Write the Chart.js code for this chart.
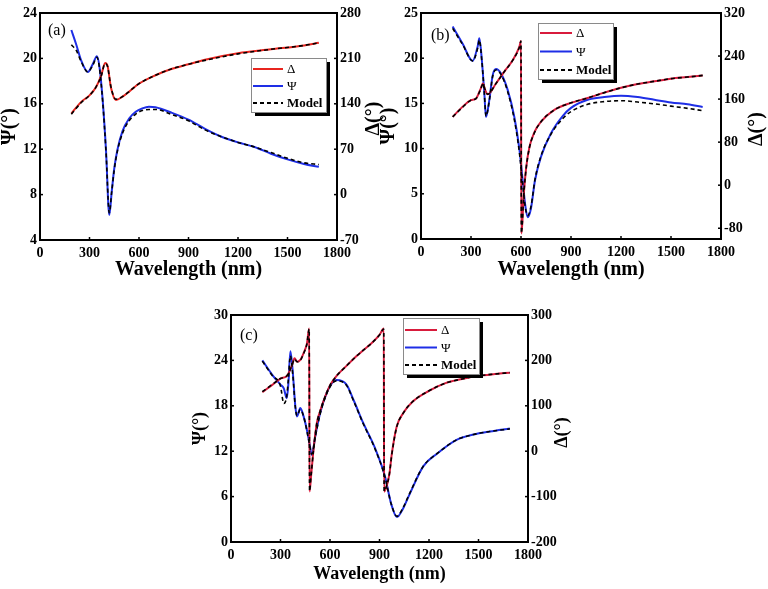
<!DOCTYPE html>
<html>
<head>
<meta charset="utf-8">
<script src="https://cdn.jsdelivr.net/npm/chart.js@4.4.0/dist/chart.umd.min.js"></script>
<style>
    html, body { margin: 0; padding: 0; background: #fff; }
    body { width: 768px; height: 589px; position: relative; overflow: hidden; }
    .panel { position: absolute; }
</style>
</head>
<body>
<div class="panel" style="left:0;top:0;"><canvas id="chart-a" width="384" height="285"></canvas></div>
<div class="panel" style="left:366px;top:0;"><canvas id="chart-b" width="402" height="285"></canvas></div>
<div class="panel" style="left:190px;top:290px;"><canvas id="chart-c" width="384" height="299"></canvas></div>
<script>
// ---- shared axis ticks ----
const xTicks = [0, 300, 600, 900, 1200, 1500, 1800];
const legendLabels = ['Δ', 'Ψ', 'Model'];

// ---- panel (a) ----
const aPsiTicks = [4, 8, 12, 16, 20, 24];
const aDelTicks = [-70, 0, 70, 140, 210, 280];
const aPsiWl = [190, 220, 250, 290, 320, 345, 360, 380, 400, 420, 435, 450, 470, 500, 540, 580, 620, 660, 700, 800, 900, 1000, 1100, 1200, 1300, 1400, 1500, 1600, 1690];
const aPsi = [22.5, 21.2, 19.8, 18.8, 19.5, 20.2, 19.3, 16.3, 11.9, 6.2, 8.3, 10.3, 12.0, 13.6, 14.7, 15.3, 15.6, 15.75, 15.7, 15.2, 14.6, 13.8, 13.1, 12.6, 12.2, 11.6, 11.1, 10.7, 10.45];
const aPsiModel = [21.2, 20.7, 19.7, 18.8, 19.4, 20.1, 19.2, 16.2, 11.8, 6.4, 8.3, 10.2, 11.9, 13.4, 14.5, 15.1, 15.4, 15.5, 15.5, 15.05, 14.5, 13.7, 13.1, 12.6, 12.2, 11.7, 11.2, 10.8, 10.65];
const aDelWl = [190, 250, 300, 340, 370, 395, 410, 430, 460, 500, 550, 600, 700, 800, 900, 1000, 1200, 1400, 1600, 1690];
const aDel = [125, 143, 153, 166, 183, 203, 198, 165, 146, 151, 161, 171, 184, 194, 201, 208, 218, 224, 230, 234];
const aDelModel = [124, 142, 153, 166, 182, 202, 197, 166, 147, 151, 161, 171, 184, 194, 201, 207, 217, 224, 230, 234];

// ---- panel (b) ----
const bPsiTicks = [0, 5, 10, 15, 20, 25];
const bDelTicks = [-80, 0, 80, 160, 240, 320];
const bPsiWl = [190, 250, 310, 340, 350, 365, 380, 390, 410, 430, 450, 480, 520, 560, 590, 610, 625, 640, 660, 684, 720, 780, 850, 900, 1000, 1100, 1200, 1300, 1400, 1500, 1600, 1690];
const bPsi = [23.5, 21.6, 19.7, 21.3, 22.2, 19.8, 16.1, 13.5, 15.4, 18.1, 18.8, 18.3, 16.5, 13.5, 10.0, 6.5, 3.8, 2.4, 3.4, 6.5, 9.1, 11.7, 13.6, 14.5, 15.4, 15.7, 15.85, 15.7, 15.4, 15.1, 14.9, 14.6];
const bPsiModel = [23.3, 21.5, 19.7, 21.1, 22.0, 19.7, 16.1, 13.6, 15.3, 18.0, 18.7, 18.2, 16.3, 13.2, 9.6, 6.1, 3.6, 2.6, 3.6, 6.6, 9.2, 11.6, 13.3, 14.1, 14.9, 15.2, 15.3, 15.15, 14.95, 14.7, 14.45, 14.2];
const bDelWl = [190, 250, 300, 330, 355, 372, 385, 400, 450, 500, 550, 590, 600, 602, 608, 615, 630, 650, 680, 720, 800, 900, 1000, 1100, 1200, 1300, 1400, 1500, 1600, 1690];
const bDel = [127, 146, 158, 161, 177, 189, 177, 169, 189, 211, 232, 257, 268, -90, -70, -25, 30, 70, 98, 118, 140, 153, 162, 172, 181, 188, 193, 198, 201, 204];
const bDelModel = [127, 145, 158, 161, 176, 188, 177, 169, 189, 211, 232, 256, 268, -89, -70, -26, 29, 69, 97, 118, 140, 153, 162, 172, 181, 188, 193, 198, 201, 204];

// ---- panel (c) ----
const cPsiTicks = [0, 6, 12, 18, 24, 30];
const cDelTicks = [-200, -100, 0, 100, 200, 300];
const cPsiWl = [190, 250, 300, 320, 338, 348, 360, 375, 390, 400, 420, 440, 460, 475, 490, 510, 540, 580, 620, 640, 700, 742, 802, 873, 933, 970, 1006, 1040, 1080, 1165, 1250, 1367, 1470, 1568, 1690];
const cPsi = [24.0, 22.1, 20.8, 20.3, 19.0, 21.0, 25.2, 22.3, 17.9, 16.6, 17.7, 16.6, 14.8, 13.1, 11.5, 13.9, 17.0, 19.7, 21.2, 21.4, 20.8, 18.8, 15.7, 12.4, 8.7, 5.1, 3.3, 4.3, 6.2, 10.0, 11.7, 13.5, 14.2, 14.6, 15.0];
const cPsiModel = [23.9, 22.0, 20.6, 18.3, 19.3, 21.6, 24.6, 22.0, 17.8, 16.7, 17.5, 16.6, 14.7, 13.0, 11.6, 13.8, 16.9, 19.6, 21.1, 21.3, 20.7, 18.7, 15.6, 12.3, 8.6, 5.1, 3.4, 4.4, 6.3, 10.0, 11.7, 13.5, 14.2, 14.6, 14.95];
const cDelWl = [190, 250, 300, 340, 370, 385, 400, 420, 440, 460, 474, 476, 485, 500, 520, 540, 560, 600, 640, 700, 750, 800, 850, 900, 926, 928, 945, 960, 975, 1004, 1044, 1100, 1200, 1300, 1400, 1500, 1600, 1690];
const cDel = [130, 146, 160, 166, 190, 205, 197, 201, 216, 237, 270, -89, -56, 3, 62, 88, 110, 145, 166, 188, 206, 222, 237, 256, 270, -89, -75, -50, -5, 54, 84, 109, 133, 150, 159, 166, 170, 173];
const cDelModel = [131, 147, 160, 167, 189, 203, 197, 200, 215, 236, 269, -88, -55, 2, 61, 88, 110, 145, 166, 188, 206, 222, 237, 256, 269, -88, -74, -50, -6, 53, 84, 109, 133, 150, 159, 166, 170, 173];

const FONT = 'Liberation Serif';
const BLUE = '#1e2ee6';
const pts = (xs, ys) => xs.map((x, i) => ({ x: x, y: ys[i] }));
const setTicks = list => scale => { scale.ticks = list.map(v => ({ value: v })); };

const panelDecor = {
    id: 'panelDecor',
    afterDatasetsDraw(chart, args, opts) {
        const { ctx, chartArea: a } = chart;
        ctx.save();

        // inward tick marks
        ctx.strokeStyle = '#000';
        ctx.lineWidth = 1.5;
        const tick = (x1, y1, x2, y2) => { ctx.beginPath(); ctx.moveTo(x1, y1); ctx.lineTo(x2, y2); ctx.stroke(); };
        const sx = chart.scales.x, sy = chart.scales.y, sy2 = chart.scales.y2;
        sx.ticks.forEach(t => { const p = sx.getPixelForValue(t.value); tick(p, a.bottom, p, a.bottom - 3); });
        sy.ticks.forEach(t => { const p = sy.getPixelForValue(t.value); tick(a.left, p, a.left + 3, p); });
        sy2.ticks.forEach(t => { const p = sy2.getPixelForValue(t.value); tick(a.right, p, a.right - 3, p); });

        // frame
        ctx.lineWidth = 2;
        ctx.strokeRect(a.left, a.top, a.right - a.left, a.bottom - a.top);

        // right axis title, read bottom to top
        ctx.fillStyle = '#000';
        ctx.font = 'bold ' + opts.titleSize + 'px "' + FONT + '"';
        ctx.textAlign = 'center';
        ctx.textBaseline = 'middle';
        ctx.translate(opts.rightTitleX, (a.top + a.bottom) / 2 + opts.rightTitleDy);
        ctx.rotate(-Math.PI / 2);
        ctx.fillText('Δ(°)', 0, 0);
        ctx.setTransform(chart.currentDevicePixelRatio, 0, 0, chart.currentDevicePixelRatio, 0, 0);

        // panel label
        ctx.font = '16px "' + FONT + '"';
        ctx.textAlign = 'left';
        ctx.fillText(opts.label, opts.labelX, opts.labelY);

        // legend box with drop shadow
        const b = opts.box;
        ctx.fillStyle = '#000';
        ctx.fillRect(b.x + 4, b.y + 4, b.w, b.h);
        ctx.fillStyle = '#fff';
        ctx.fillRect(b.x, b.y, b.w, b.h);
        ctx.strokeStyle = '#8a8a8a';
        ctx.lineWidth = 1;
        ctx.strokeRect(b.x + 0.5, b.y + 0.5, b.w, b.h);

        legendLabels.forEach((lab, i) => {
            const ds = chart.data.datasets.find(d => d.label === lab);
            const y = b.y + opts.rowTop + i * opts.rowStep;
            ctx.strokeStyle = ds.borderColor;
            ctx.lineWidth = 2;
            ctx.setLineDash(ds.borderDash || []);
            tick(b.x + 2, y, b.x + 2 + opts.sample, y);
            ctx.setLineDash([]);
            ctx.fillStyle = '#000';
            ctx.font = (lab === 'Model' ? 'bold ' : '') + '13px "' + FONT + '"';
            ctx.fillText(lab, b.x + opts.sample + 6, y + 1);
        });
        ctx.restore();
    }
};

function makeChart(id, cfg) {
    const tickFont = { family: FONT, weight: 'bold', size: 14 };
    const titleFont = { family: FONT, weight: 'bold', size: cfg.titleSize, lineHeight: 1 };
    const line = { pointRadius: 0, fill: false, cubicInterpolationMode: 'monotone' };
    const plain = v => String(v);
    return new Chart(document.getElementById(id), {
        type: 'line',
        data: {
            datasets: [
                { ...line, label: 'Model', data: pts(cfg.delWl, cfg.delModel), yAxisID: 'y2', borderColor: '#000', borderWidth: 1.6, borderDash: [4, 3], order: 0 },
                { ...line, label: 'Model Ψ', data: pts(cfg.psiWl, cfg.psiModel), yAxisID: 'y', borderColor: '#000', borderWidth: 1.6, borderDash: [4, 3], order: 0 },
                { ...line, label: 'Δ', data: pts(cfg.delWl, cfg.del), yAxisID: 'y2', borderColor: cfg.red, borderWidth: 2, order: 1 },
                { ...line, label: 'Ψ', data: pts(cfg.psiWl, cfg.psi), yAxisID: 'y', borderColor: BLUE, borderWidth: 2, order: 1 }
            ]
        },
        options: {
            responsive: false,
            animation: false,
            events: [],
            layout: { padding: { top: cfg.top, left: 0, right: 0, bottom: 0 } },
            scales: {
                x: {
                    type: 'linear', min: 0, max: 1800,
                    afterBuildTicks: setTicks(xTicks),
                    afterFit: s => { s.height = cfg.xH; },
                    grid: { display: false, drawTicks: false },
                    border: { display: false },
                    ticks: { font: tickFont, color: '#000', padding: 5, maxRotation: 0, autoSkip: false, callback: plain },
                    title: { display: true, text: 'Wavelength (nm)', color: '#000', font: titleFont, padding: { top: 0, bottom: cfg.xTitlePad } }
                },
                y: {
                    position: 'left', min: cfg.psiTicks[0], max: cfg.psiTicks[cfg.psiTicks.length - 1],
                    afterBuildTicks: setTicks(cfg.psiTicks),
                    afterFit: s => { s.width = cfg.leftW; },
                    grid: { display: false, drawTicks: false },
                    border: { display: false },
                    ticks: { font: tickFont, color: '#000', padding: 3, callback: plain },
                    title: { display: true, text: 'Ψ(°)', color: '#000', font: titleFont, padding: { top: cfg.leftTitlePad, bottom: 0 } }
                },
                y2: {
                    position: 'right', min: cfg.delMin, max: cfg.delTicks[cfg.delTicks.length - 1],
                    afterBuildTicks: setTicks(cfg.delTicks),
                    afterFit: s => { s.width = cfg.rightW; },
                    grid: { display: false, drawTicks: false },
                    border: { display: false },
                    ticks: { font: tickFont, color: '#000', padding: 3, callback: plain }
                }
            },
            plugins: {
                legend: { display: false },
                tooltip: { enabled: false },
                panelDecor: cfg.decor
            }
        },
        plugins: [panelDecor]
    });
}

makeChart('chart-a', {
    psiWl: aPsiWl, psi: aPsi, psiModel: aPsiModel, delWl: aDelWl, del: aDel, delModel: aDelModel,
    psiTicks: aPsiTicks, delTicks: aDelTicks, delMin: -70, red: '#e8251f',
    top: 13, xH: 45, leftW: 40, rightW: 47, titleSize: 20, xTitlePad: 5, leftTitlePad: 0,
    decor: { titleSize: 20, rightTitleX: 374, rightTitleDy: -8, label: '(a)', labelX: 48, labelY: 31,
        box: { x: 251, y: 58, w: 75, h: 54 }, rowTop: 11, rowStep: 17, sample: 30 }
});

makeChart('chart-b', {
    psiWl: bPsiWl, psi: bPsi, psiModel: bPsiModel, delWl: bDelWl, del: bDel, delModel: bDelModel,
    psiTicks: bPsiTicks, delTicks: bDelTicks, delMin: -100, red: '#d81b3c',
    top: 13, xH: 46, leftW: 55, rightW: 47, titleSize: 20, xTitlePad: 5, leftTitlePad: 13,
    decor: { titleSize: 20, rightTitleX: 391, rightTitleDy: 3, label: '(b)', labelX: 65, labelY: 36,
        box: { x: 172, y: 23, w: 75, h: 56 }, rowTop: 10, rowStep: 18.5, sample: 32 }
});

makeChart('chart-c', {
    psiWl: cPsiWl, psi: cPsi, psiModel: cPsiModel, delWl: cDelWl, del: cDel, delModel: cDelModel,
    psiTicks: cPsiTicks, delTicks: cDelTicks, delMin: -200, red: '#d81b3c',
    top: 25, xH: 47, leftW: 41, rightW: 46, titleSize: 18, xTitlePad: 6, leftTitlePad: 1,
    decor: { titleSize: 18, rightTitleX: 372, rightTitleDy: 4, label: '(c)', labelX: 50, labelY: 46,
        box: { x: 213, y: 28, w: 76, h: 56 }, rowTop: 12, rowStep: 17.5, sample: 32 }
});
</script>
</body>
</html>
